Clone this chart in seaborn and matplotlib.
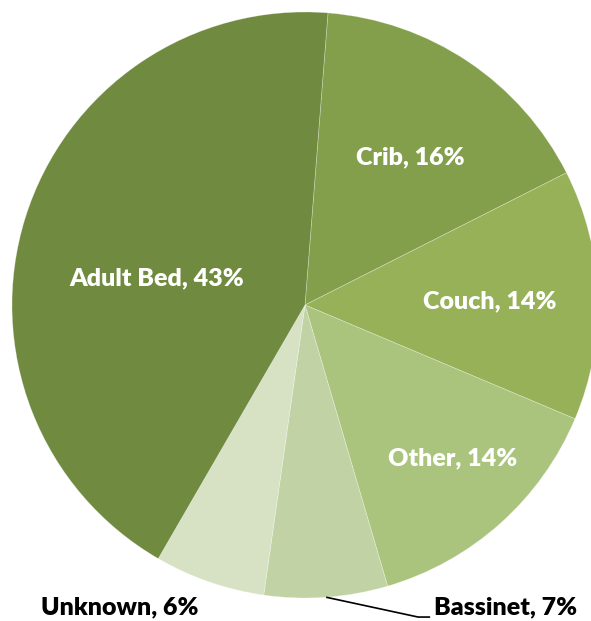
import matplotlib
matplotlib.use("Agg")
import matplotlib.pyplot as plt
import seaborn as sns
import numpy as np

sns.set_theme(style="white")
plt.rcParams['font.family'] = ['Lato', 'DejaVu Sans']

categories = ["Crib", "Couch", "Other", "Bassinet", "Unknown", "Adult Bed"]
values = [16.3, 13.8, 14.1, 6.8, 6.1, 42.9]
pct_labels = ["16%", "14%", "14%", "7%", "6%", "43%"]
colors = ["#849F4C", "#96B157", "#AAC47D", "#C1D3A4", "#D7E2C5", "#708A3F"]

W, H = 591, 621
fig = plt.figure(figsize=(W / 100, H / 100), dpi=100)
cx, cy, r = 305, 305, 293
ax = fig.add_axes([(cx - r) / W, (H - cy - r) / H, 2 * r / W, 2 * r / H])

wedges, _ = ax.pie(values, colors=colors, startangle=85.5, counterclock=False,
                   radius=1.0, center=(0, 0), frame=False,
                   wedgeprops=dict(edgecolor=(1, 1, 1, 0.35), linewidth=0.5))
ax.set_xlim(-1, 1)
ax.set_ylim(-1, 1)
ax.set_aspect("equal")
ax.axis("off")

# label positions (data coords)
inside_pos = {"Crib": (0.358, 0.505), "Couch": (0.631, 0.014),
              "Other": (0.505, -0.522), "Adult Bed": (-0.505, 0.092)}
outside_pos = {"Unknown": (-0.631, -1.031), "Bassinet": (0.686, -1.031)}

for w, cat, pl in zip(wedges, categories, pct_labels):
    txt = f"{cat}, {pl}"
    if cat in inside_pos:
        x, y = inside_pos[cat]
        ax.text(x, y, txt, ha="center", va="center", color="white",
                fontsize=18, fontweight="heavy", clip_on=False)
    else:
        x, y = outside_pos[cat]
        ax.text(x, y, txt, ha="center", va="center", color="black",
                fontsize=18, fontweight="heavy", clip_on=False)
        if cat == "Bassinet":
            ang = np.deg2rad((w.theta1 + w.theta2) / 2)
            ex, ey = np.cos(ang) * 1.0, np.sin(ang) * 1.0
            ax.plot([ex, 0.386, 0.427], [ey, -1.065, -1.065], color="black",
                    lw=1.2, clip_on=False, solid_capstyle="butt")

fig.savefig("out.png", dpi=100)
